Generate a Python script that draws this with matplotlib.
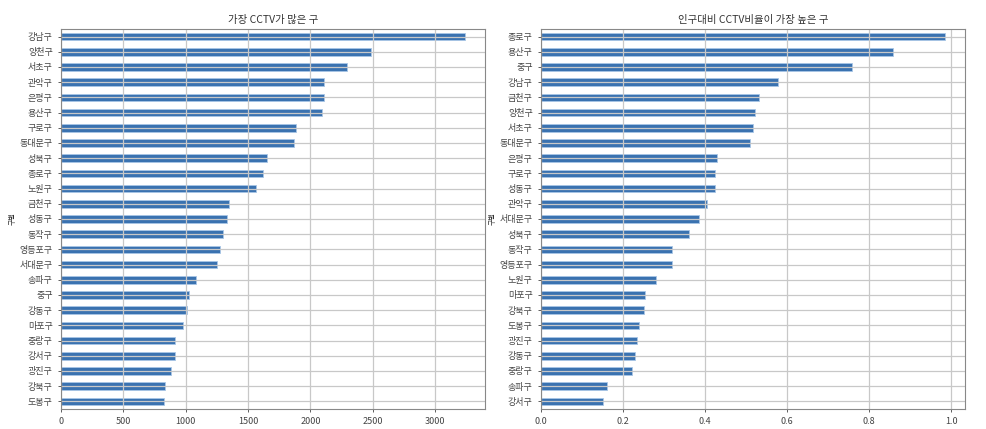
import numpy as np
import pandas as pd
import matplotlib
matplotlib.use("Agg")
import matplotlib.pyplot as plt

plt.rcParams['font.family'] = ['Noto Sans CJK KR', 'DejaVu Sans']

## CCTV 소계 by 구
gu_cctv = ['강남구', '양천구', '서초구', '관악구', '은평구', '용산구', '구로구', '동대문구',
           '성북구', '종로구', '노원구', '금천구', '성동구', '동작구', '영등포구', '서대문구',
           '송파구', '중구', '강동구', '마포구', '중랑구', '강서구', '광진구', '강북구', '도봉구']
cctv_total = [3238, 2482, 2297, 2109, 2108, 2096, 1884, 1870, 1651, 1619, 1566, 1348, 1327,
              1302, 1277, 1254, 1081, 1023, 1010, 980, 916, 911, 878, 831, 825]

## CCTV비율 (CCTV / 인구수 * 100)
gu_ratio = ['종로구', '용산구', '중구', '강남구', '금천구', '양천구', '서초구', '동대문구',
            '은평구', '구로구', '성동구', '관악구', '서대문구', '성북구', '동작구', '영등포구',
            '노원구', '마포구', '강북구', '도봉구', '광진구', '강동구', '중랑구', '송파구', '강서구']
cctv_ratio = [0.984, 0.857, 0.759, 0.577, 0.531, 0.522, 0.516, 0.510, 0.429, 0.425, 0.425,
              0.404, 0.386, 0.361, 0.318, 0.318, 0.280, 0.254, 0.252, 0.238, 0.235, 0.230,
              0.221, 0.160, 0.150]

s1 = pd.Series(cctv_total, index=pd.Index(gu_cctv, name='구별')).sort_values()
s2 = pd.Series(cctv_ratio, index=pd.Index(gu_ratio, name='구별')).sort_values()

fig = plt.figure(figsize=(9.86, 4.29), dpi=100)
ax1 = fig.add_axes([0.0619, 0.0466, 0.430, 0.886])
ax2 = fig.add_axes([0.5487, 0.0466, 0.430, 0.886])

bar_color = '#3a72b0'
for ax, s, title in [(ax1, s1, '가장 CCTV가 많은 구'),
                     (ax2, s2, '인구대비 CCTV비율이 가장 높은 구')]:
    s.plot(kind='barh', ax=ax, grid=True, color=bar_color, edgecolor='#a9c6e6', linewidth=0.6)
    ax.set_title(title, fontsize=7.5, color='#333333', pad=4)
    ax.set_ylabel('구별', fontsize=5, color='#333333', labelpad=2)
    ax.tick_params(labelsize=6.5, colors='#444444', length=2.5, width=0.6)
    ax.grid(True, color='#c8c8c8', linewidth=0.9)
    for sp in ax.spines.values():
        sp.set_color('#888888')
        sp.set_linewidth(0.8)

ax1.set_xticks([0, 500, 1000, 1500, 2000, 2500, 3000])
ax2.set_xticks([0.0, 0.2, 0.4, 0.6, 0.8, 1.0])

fig.savefig('out.png', dpi=100)
